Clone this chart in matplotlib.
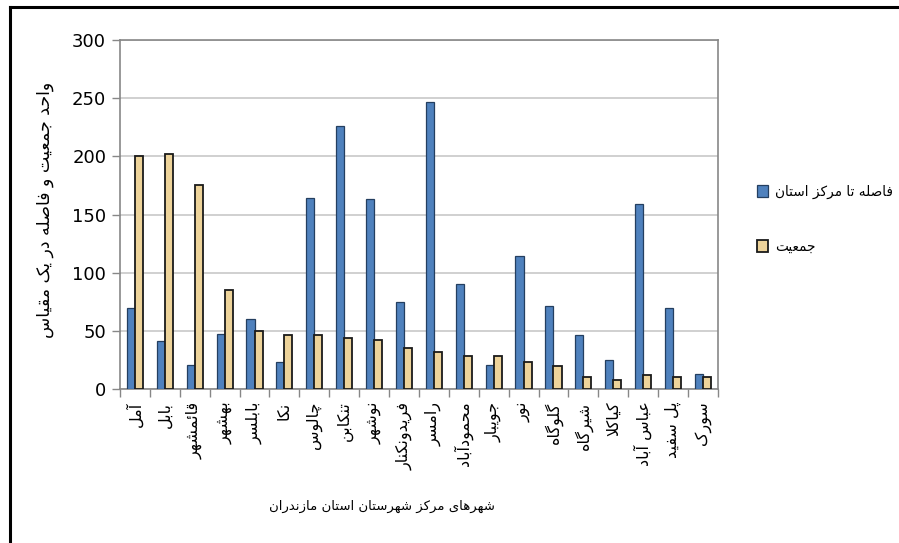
import numpy as np
import matplotlib
matplotlib.use("Agg")
import matplotlib.pyplot as plt
from matplotlib.lines import Line2D

# data
cities = ['آمل', 'بابل', 'قائمشهر', 'بهشهر', 'بابلسر', 'نکا', 'چالوس', 'تنکابن',
          'نوشهر', 'فریدونکنار', 'رامسر', 'محمودآباد', 'جویبار', 'نور', 'گلوگاه',
          'شیرگاه', 'کیاکلا', 'عباس آباد', 'پل سفید', 'سورک']
distance = [70, 41, 21, 47, 60, 23, 164, 226, 163, 75, 247, 90, 21, 114, 71, 46, 25, 159, 70, 13]
population = [200, 202, 175, 85, 50, 46, 46, 44, 42, 35, 32, 28, 28, 23, 20, 10, 8, 12, 10, 10]
yticks = [0, 50, 100, 150, 200, 250, 300]

label_dist = 'فاصله تا مرکز استان'
label_pop = 'جمعیت'
ylabel = 'واحد جمعیت و فاصله در یک مقیاس'
xlabel = 'شهرهای مرکز شهرستان استان مازندران'

# small persian shaper: (isolated, final, initial, medial)
FORMS = {
    'ا': (0xFE8D, 0xFE8E), 'آ': (0xFE81, 0xFE82), 'د': (0xFEA9, 0xFEAA),
    'ذ': (0xFEAB, 0xFEAC), 'ر': (0xFEAD, 0xFEAE), 'ز': (0xFEAF, 0xFEB0),
    'ژ': (0xFB8A, 0xFB8B), 'و': (0xFEED, 0xFEEE),
    'ئ': (0xFE89, 0xFE8A, 0xFE8B, 0xFE8C), 'ب': (0xFE8F, 0xFE90, 0xFE91, 0xFE92),
    'پ': (0xFB56, 0xFB57, 0xFB58, 0xFB59), 'ت': (0xFE95, 0xFE96, 0xFE97, 0xFE98),
    'ث': (0xFE99, 0xFE9A, 0xFE9B, 0xFE9C), 'ج': (0xFE9D, 0xFE9E, 0xFE9F, 0xFEA0),
    'چ': (0xFB7A, 0xFB7B, 0xFB7C, 0xFB7D), 'ح': (0xFEA1, 0xFEA2, 0xFEA3, 0xFEA4),
    'خ': (0xFEA5, 0xFEA6, 0xFEA7, 0xFEA8), 'س': (0xFEB1, 0xFEB2, 0xFEB3, 0xFEB4),
    'ش': (0xFEB5, 0xFEB6, 0xFEB7, 0xFEB8), 'ص': (0xFEB9, 0xFEBA, 0xFEBB, 0xFEBC),
    'ض': (0xFEBD, 0xFEBE, 0xFEBF, 0xFEC0), 'ط': (0xFEC1, 0xFEC2, 0xFEC3, 0xFEC4),
    'ظ': (0xFEC5, 0xFEC6, 0xFEC7, 0xFEC8), 'ع': (0xFEC9, 0xFECA, 0xFECB, 0xFECC),
    'غ': (0xFECD, 0xFECE, 0xFECF, 0xFED0), 'ف': (0xFED1, 0xFED2, 0xFED3, 0xFED4),
    'ق': (0xFED5, 0xFED6, 0xFED7, 0xFED8), 'ک': (0xFB8E, 0xFB8F, 0xFB90, 0xFB91),
    'گ': (0xFB92, 0xFB93, 0xFB94, 0xFB95), 'ل': (0xFEDD, 0xFEDE, 0xFEDF, 0xFEE0),
    'م': (0xFEE1, 0xFEE2, 0xFEE3, 0xFEE4), 'ن': (0xFEE5, 0xFEE6, 0xFEE7, 0xFEE8),
    'ه': (0xFEE9, 0xFEEA, 0xFEEB, 0xFEEC), 'ی': (0xFBFC, 0xFBFD, 0xFBFE, 0xFBFF),
}
LAM_ALEF = {'ا': (0xFEFB, 0xFEFC), 'آ': (0xFEF5, 0xFEF6)}


def shape(text):
    # merge lam + alef into one unit first
    units = []
    i = 0
    while i < len(text):
        c = text[i]
        if c == 'ل' and i + 1 < len(text) and text[i + 1] in LAM_ALEF:
            units.append(('LA', text[i + 1]))
            i += 2
        else:
            units.append((c, None))
            i += 1

    def joins_left(u):  # can connect to the following letter
        if u[0] == 'LA':
            return False
        f = FORMS.get(u[0])
        return f is not None and len(f) == 4

    def is_letter(u):
        return u[0] == 'LA' or u[0] in FORMS

    out = []
    for k, u in enumerate(units):
        prev_j = k > 0 and joins_left(units[k - 1]) and is_letter(u)
        next_j = k + 1 < len(units) and joins_left(u) and is_letter(units[k + 1])
        if u[0] == 'LA':
            f = LAM_ALEF[u[1]]
            out.append(chr(f[1] if prev_j else f[0]))
        elif u[0] in FORMS:
            f = FORMS[u[0]]
            if len(f) == 2:
                out.append(chr(f[1] if prev_j else f[0]))
            elif prev_j and next_j:
                out.append(chr(f[3]))
            elif prev_j:
                out.append(chr(f[1]))
            elif next_j:
                out.append(chr(f[2]))
            else:
                out.append(chr(f[0]))
        else:
            out.append(u[0])
    return ''.join(out)[::-1]


plt.rcParams['font.family'] = ['DejaVu Sans']

fig = plt.figure(figsize=(8.99, 5.43), dpi=100)
ax = fig.add_axes([0.1335, 0.2836, 0.665, 0.6427])

x = np.arange(len(cities))
w = 0.27
ax.bar(x - w / 2, distance, w, color='#4F81BD', edgecolor='#243F60', linewidth=0.9,
       label=shape(label_dist), zorder=3)
ax.bar(x + w / 2, population, w, color='#EDD39A', edgecolor='#1A1A1A', linewidth=1.3,
       label=shape(label_pop), zorder=3)

ax.set_xlim(-0.5, len(cities) - 0.5)
ax.set_ylim(0, 300)
ax.set_yticks(yticks)
ax.set_yticklabels([str(v) for v in yticks], fontsize=13)
ax.yaxis.grid(True, color='#C4C4C4', linewidth=1.1, zorder=0)
ax.set_axisbelow(True)

ax.set_xticks(x)
ax.set_xticklabels([shape(c) for c in cities], rotation=90, fontsize=11.5)
ax.set_xticks(np.arange(len(cities) + 1) - 0.5, minor=True)
ax.tick_params(axis='x', which='major', length=0, pad=9)
ax.tick_params(axis='x', which='minor', length=6, color='#878787', width=1)
ax.tick_params(axis='y', length=6, color='#878787', width=1, pad=4)

for s in ax.spines.values():
    s.set_color('#878787')
    s.set_linewidth(1.2)

fig.text(45 / 899, 1 - 210 / 543, shape(ylabel), rotation=90, ha='center',
         va='center', fontsize=12.5)
fig.text(382 / 899, 1 - 506 / 543, shape(xlabel), ha='center', va='center', fontsize=9.5)

ax.legend(loc='center left', bbox_to_anchor=(745 / 899, 1 - 219 / 543),
          bbox_transform=fig.transFigure, frameon=False, fontsize=9.8,
          handlelength=0.8, handleheight=1.0, handletextpad=0.5, labelspacing=3.0)

# outer frame on top and left edge
fig.add_artist(Line2D([10 / 899, 10 / 899], [0, 1 - 7 / 543], color='black', linewidth=2.2))
fig.add_artist(Line2D([10 / 899, 1], [1 - 7 / 543, 1 - 7 / 543], color='black', linewidth=2.2))

fig.savefig('out.png', dpi=100)
